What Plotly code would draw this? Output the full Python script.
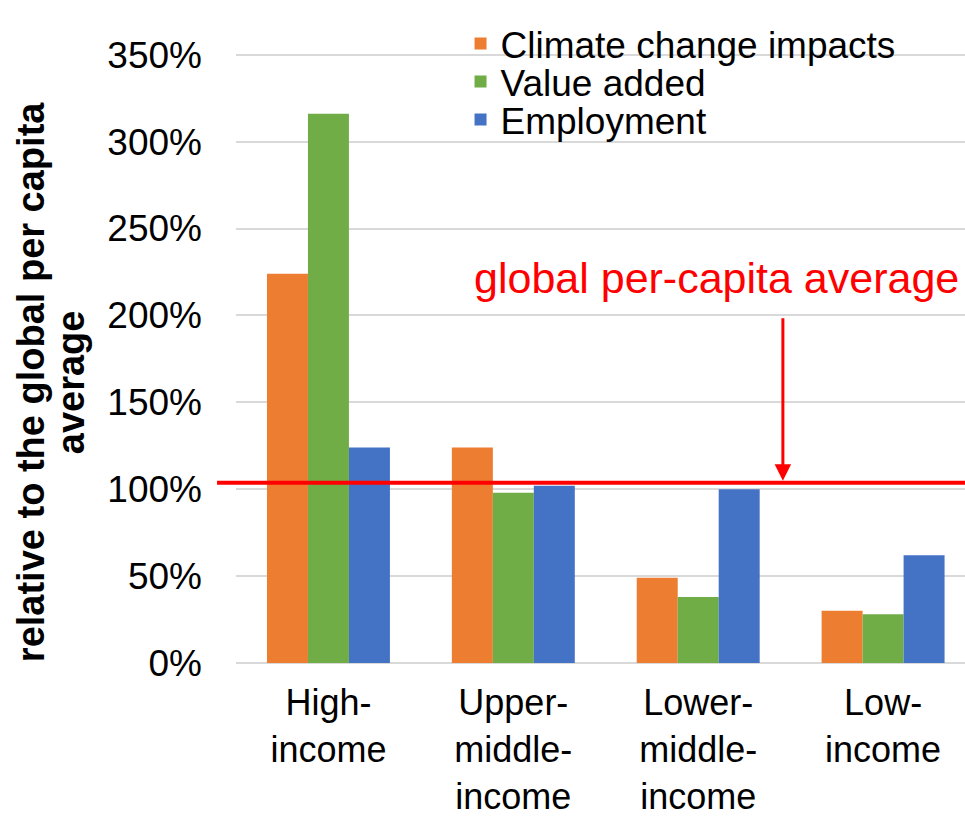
import plotly.graph_objects as go

# Income groups and per-capita shares relative to the global average (%)
groups = ["High-<br>income", "Upper-<br>middle-<br>income", "Lower-<br>middle-<br>income", "Low-<br>income"]
climate_impacts = [224, 124, 49, 30]
value_added = [316, 98, 38, 28]
employment = [124, 102, 100, 62]

series_names = ["Climate change impacts", "Value added", "Employment"]
series_colors = ["#ED7D31", "#70AD47", "#4472C4"]

avg_line = 103.7
y_ticks = [0, 50, 100, 150, 200, 250, 300, 350]
y_tick_text = [f"{v}%" for v in y_ticks]

FONT = "Liberation Sans, Arial, sans-serif"

fig = go.Figure()
legend_ids = ["legend", "legend2", "legend3"]
for name, vals, color, lg in zip(series_names, [climate_impacts, value_added, employment],
                                 series_colors, legend_ids):
    fig.add_trace(go.Bar(x=groups, y=vals, name=name, marker=dict(color=color, line_width=0),
                         legend=lg, showlegend=True))

# red reference line for the global per-capita average
fig.add_shape(type="line", xref="paper", yref="y", x0=-0.026, x1=1.0, y0=avg_line, y1=avg_line,
              line=dict(color="#FF0000", width=4), layer="above")

fig.add_annotation(x=2.458, y=avg_line, xref="x", yref="y", ax=0, ay=-166, axref="pixel",
                   ayref="pixel", showarrow=True, arrowhead=2, arrowsize=1.1, arrowwidth=3,
                   arrowcolor="#FF0000", standoff=2, text="")
fig.add_annotation(x=0.659, y=0.598, xref="paper", yref="paper", text="global per-capita average",
                   showarrow=False, xanchor="center", yanchor="middle",
                   font=dict(family=FONT, size=43, color="#FF0000"))

legend_common = dict(font=dict(family=FONT, size=37, color="#000000"), bgcolor="rgba(0,0,0,0)",
                     xanchor="left", yanchor="middle", itemwidth=30, tracegroupgap=0)

fig.update_layout(
    width=965, height=816,
    margin=dict(l=236, r=0, t=20, b=153),
    paper_bgcolor="white", plot_bgcolor="white",
    barmode="group", bargap=0.335, bargroupgap=0,
    font=dict(family=FONT, color="#000000"),
    showlegend=True,
    legend=dict(x=0.308, y=(663.3 - 44) / 643.3, **legend_common),
    legend2=dict(x=0.308, y=(663.3 - 82) / 643.3, **legend_common),
    legend3=dict(x=0.308, y=(663.3 - 120) / 643.3, **legend_common),
    xaxis=dict(range=[-0.5, 3.443], showgrid=False, showline=False, ticks="",
               ticklabelstandoff=15,
               tickfont=dict(family=FONT, size=36, color="#000000")),
    yaxis=dict(range=[0, 370], tickvals=y_ticks, ticktext=y_tick_text, showgrid=True,
               gridcolor="#D9D9D9", gridwidth=1.5, zeroline=True, zerolinecolor="#D9D9D9",
               zerolinewidth=1.5, showline=False, ticks="", ticklabelstandoff=33,
               tickfont=dict(family=FONT, size=37, color="#000000")),
)

# y-axis title, two rotated lines
fig.add_annotation(x=-0.281, y=0.437, xref="paper", yref="paper", textangle=-90,
                   text="<b>relative to the global per capita</b>", showarrow=False,
                   xanchor="center", yanchor="middle",
                   font=dict(family=FONT, size=38, color="#000000"))
fig.add_annotation(x=-0.226, y=0.437, xref="paper", yref="paper", textangle=-90,
                   text="<b>average</b>", showarrow=False, xanchor="center", yanchor="middle",
                   font=dict(family=FONT, size=38, color="#000000"))

fig.write_html("out.html")
